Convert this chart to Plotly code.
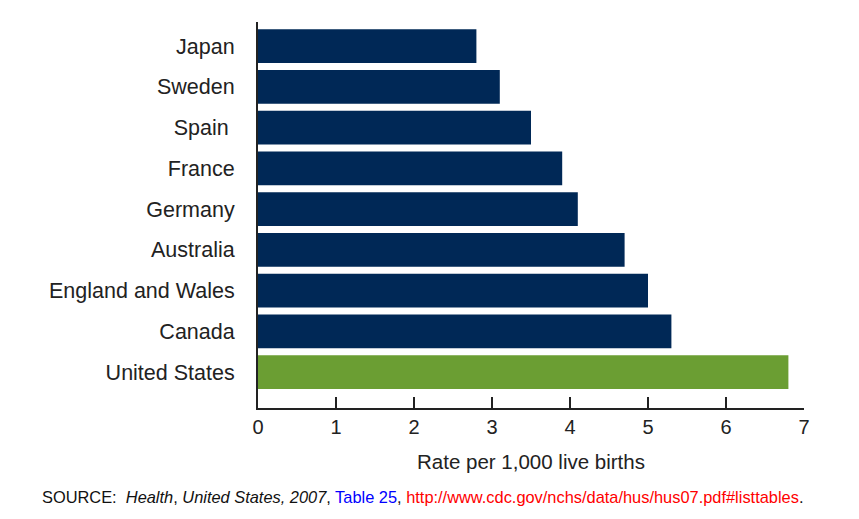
import plotly.graph_objects as go

countries = ["United States", "Canada", "England and Wales", "Australia", "Germany",
             "France", "Spain ", "Sweden", "Japan"]
rates = [6.8, 5.3, 5.0, 4.7, 4.1, 3.9, 3.5, 3.1, 2.8]
colors = ["#6b9e33"] + ["#002856"] * 8
x_ticks = [0, 1, 2, 3, 4, 5, 6, 7]

fig = go.Figure(go.Bar(
    x=rates, y=countries, orientation="h",
    marker=dict(color=colors, line=dict(width=0)),
    width=0.83,
))

font_family = "Liberation Sans, Arial, sans-serif"
fig.update_layout(
    width=859, height=519,
    margin=dict(l=258, r=55, t=22, b=111),
    plot_bgcolor="white", paper_bgcolor="white",
    showlegend=False,
    font=dict(family=font_family, size=20, color="#222222"),
    xaxis=dict(
        range=[0, 7], tickvals=x_ticks, ticks="inside", ticklen=11, tickwidth=2,
        tickcolor="#222222", showline=True, linecolor="#222222", linewidth=2,
        showgrid=False, zeroline=False,
        tickfont=dict(size=20), ticklabelstandoff=0,
        title=dict(text="Rate per 1,000 live births", font=dict(size=20.5), standoff=18),
    ),
    yaxis=dict(
        range=[-0.88, 8.59], showline=True, linecolor="#222222", linewidth=2,
        showgrid=False, zeroline=False, ticks="", ticklabelstandoff=17,
        tickfont=dict(size=21.5),
    ),
)

fig.add_annotation(
    xref="paper", yref="paper", x=-0.4, y=-0.2306, xanchor="left", yanchor="middle",
    showarrow=False, font=dict(size=16.4, color="#111111"),
    text=("SOURCE:  <i>Health</i>, <i>United States, 2007</i>, "
          "<span style='color:#0000ff'>Table 25</span>, "
          "<span style='color:#ff0000'>http://www.cdc.gov/nchs/data/hus/hus07.pdf#listtables</span>."),
)

fig.write_html("out.html")
